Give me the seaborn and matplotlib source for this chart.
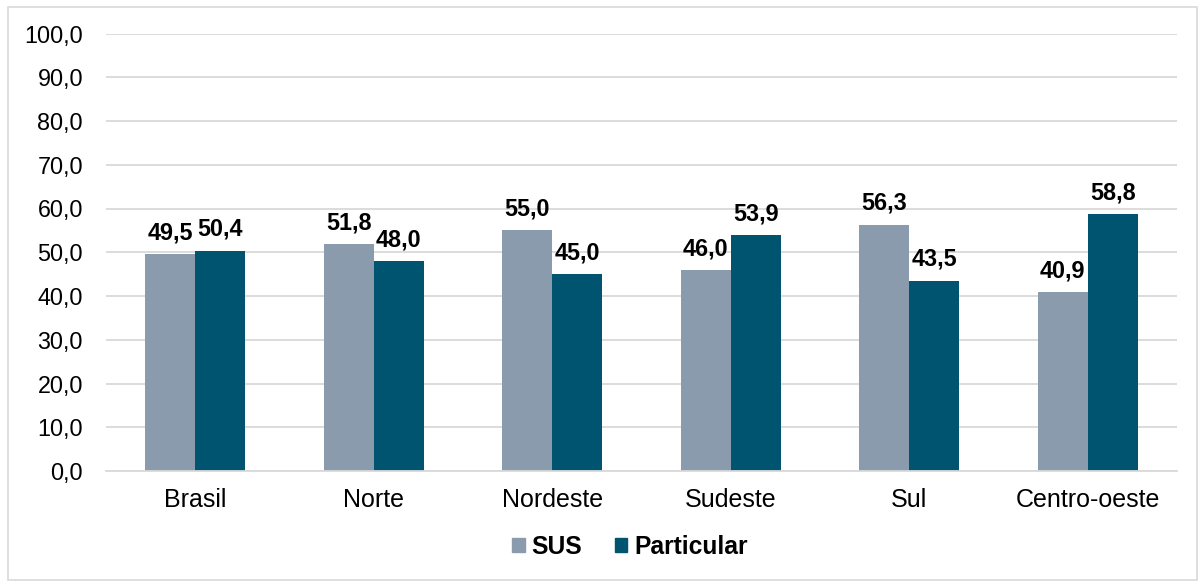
import numpy as np
import pandas as pd
import seaborn as sns
import matplotlib.pyplot as plt
from matplotlib.patches import Rectangle
from matplotlib.ticker import FuncFormatter, MultipleLocator

regioes = ["Brasil", "Norte", "Nordeste", "Sudeste", "Sul", "Centro-oeste"]
sus = [49.5, 51.8, 55.0, 46.0, 56.3, 40.9]
particular = [50.4, 48.0, 45.0, 53.9, 43.5, 58.8]
series = ["SUS", "Particular"]
cores = ["#8A9BAE", "#00546F"]

df = pd.DataFrame({
    "Regiao": regioes * 2,
    "Tipo": ["SUS"] * len(regioes) + ["Particular"] * len(regioes),
    "Valor": sus + particular})

sns.set_style("white")
plt.rcParams['font.family'] = ['Liberation Sans', 'DejaVu Sans']
plt.rcParams['text.color'] = 'black'

fig = plt.figure(figsize=(11.99, 5.82), dpi=100)
ax = fig.add_axes([106 / 1199, 1 - 471 / 582, (1177 - 106) / 1199, (471 - 33.5) / 582])

sns.barplot(data=df, x="Regiao", y="Valor", hue="Tipo", order=regioes,
            hue_order=series, palette=cores, width=0.56, gap=0,
            saturation=1, linewidth=0, ax=ax, legend=True)

def virgula(v, pos=None):
    return f"{v:.1f}".replace(".", ",")

for cont, vals in zip(ax.containers, [sus, particular]):
    ax.bar_label(cont, labels=[virgula(v) for v in vals], padding=7,
                 fontsize=16.8, fontweight="bold", color="black")

ax.set_ylim(0, 100)
ax.set_xlim(-0.5, 5.5)
ax.yaxis.set_major_locator(MultipleLocator(10))
ax.yaxis.set_major_formatter(FuncFormatter(virgula))
ax.grid(axis="y", color="#D9D9D9", linewidth=1.3)
ax.set_axisbelow(True)
for s in ["left", "right", "top"]:
    ax.spines[s].set_visible(False)
ax.spines["bottom"].set_color("#D9D9D9")
ax.spines["bottom"].set_linewidth(1.3)
ax.tick_params(axis="y", length=0, pad=16.5, labelsize=16.8, labelcolor="black")
ax.tick_params(axis="x", length=0, pad=12, labelsize=18, labelcolor="black")
ax.set_xlabel("")
ax.set_ylabel("")

ax.legend_.remove()
handles = [Rectangle((0, 0), 1, 1, color=c) for c in cores]
fig.legend(handles, series, loc="center", bbox_to_anchor=(630 / 1199, 1 - 547 / 582),
           ncol=2, frameon=False, prop={"size": 17.7, "weight": "bold"},
           handlelength=0.49, handleheight=0.49, handletextpad=0.28,
           columnspacing=1.34, labelcolor="black")

fig.patches.append(Rectangle((8 / 1199, 2 / 582), 1189 / 1199, 573 / 582,
                             transform=fig.transFigure, fill=False,
                             edgecolor="#D9D9D9", linewidth=1.2))

fig.savefig("out.png", dpi=100)
